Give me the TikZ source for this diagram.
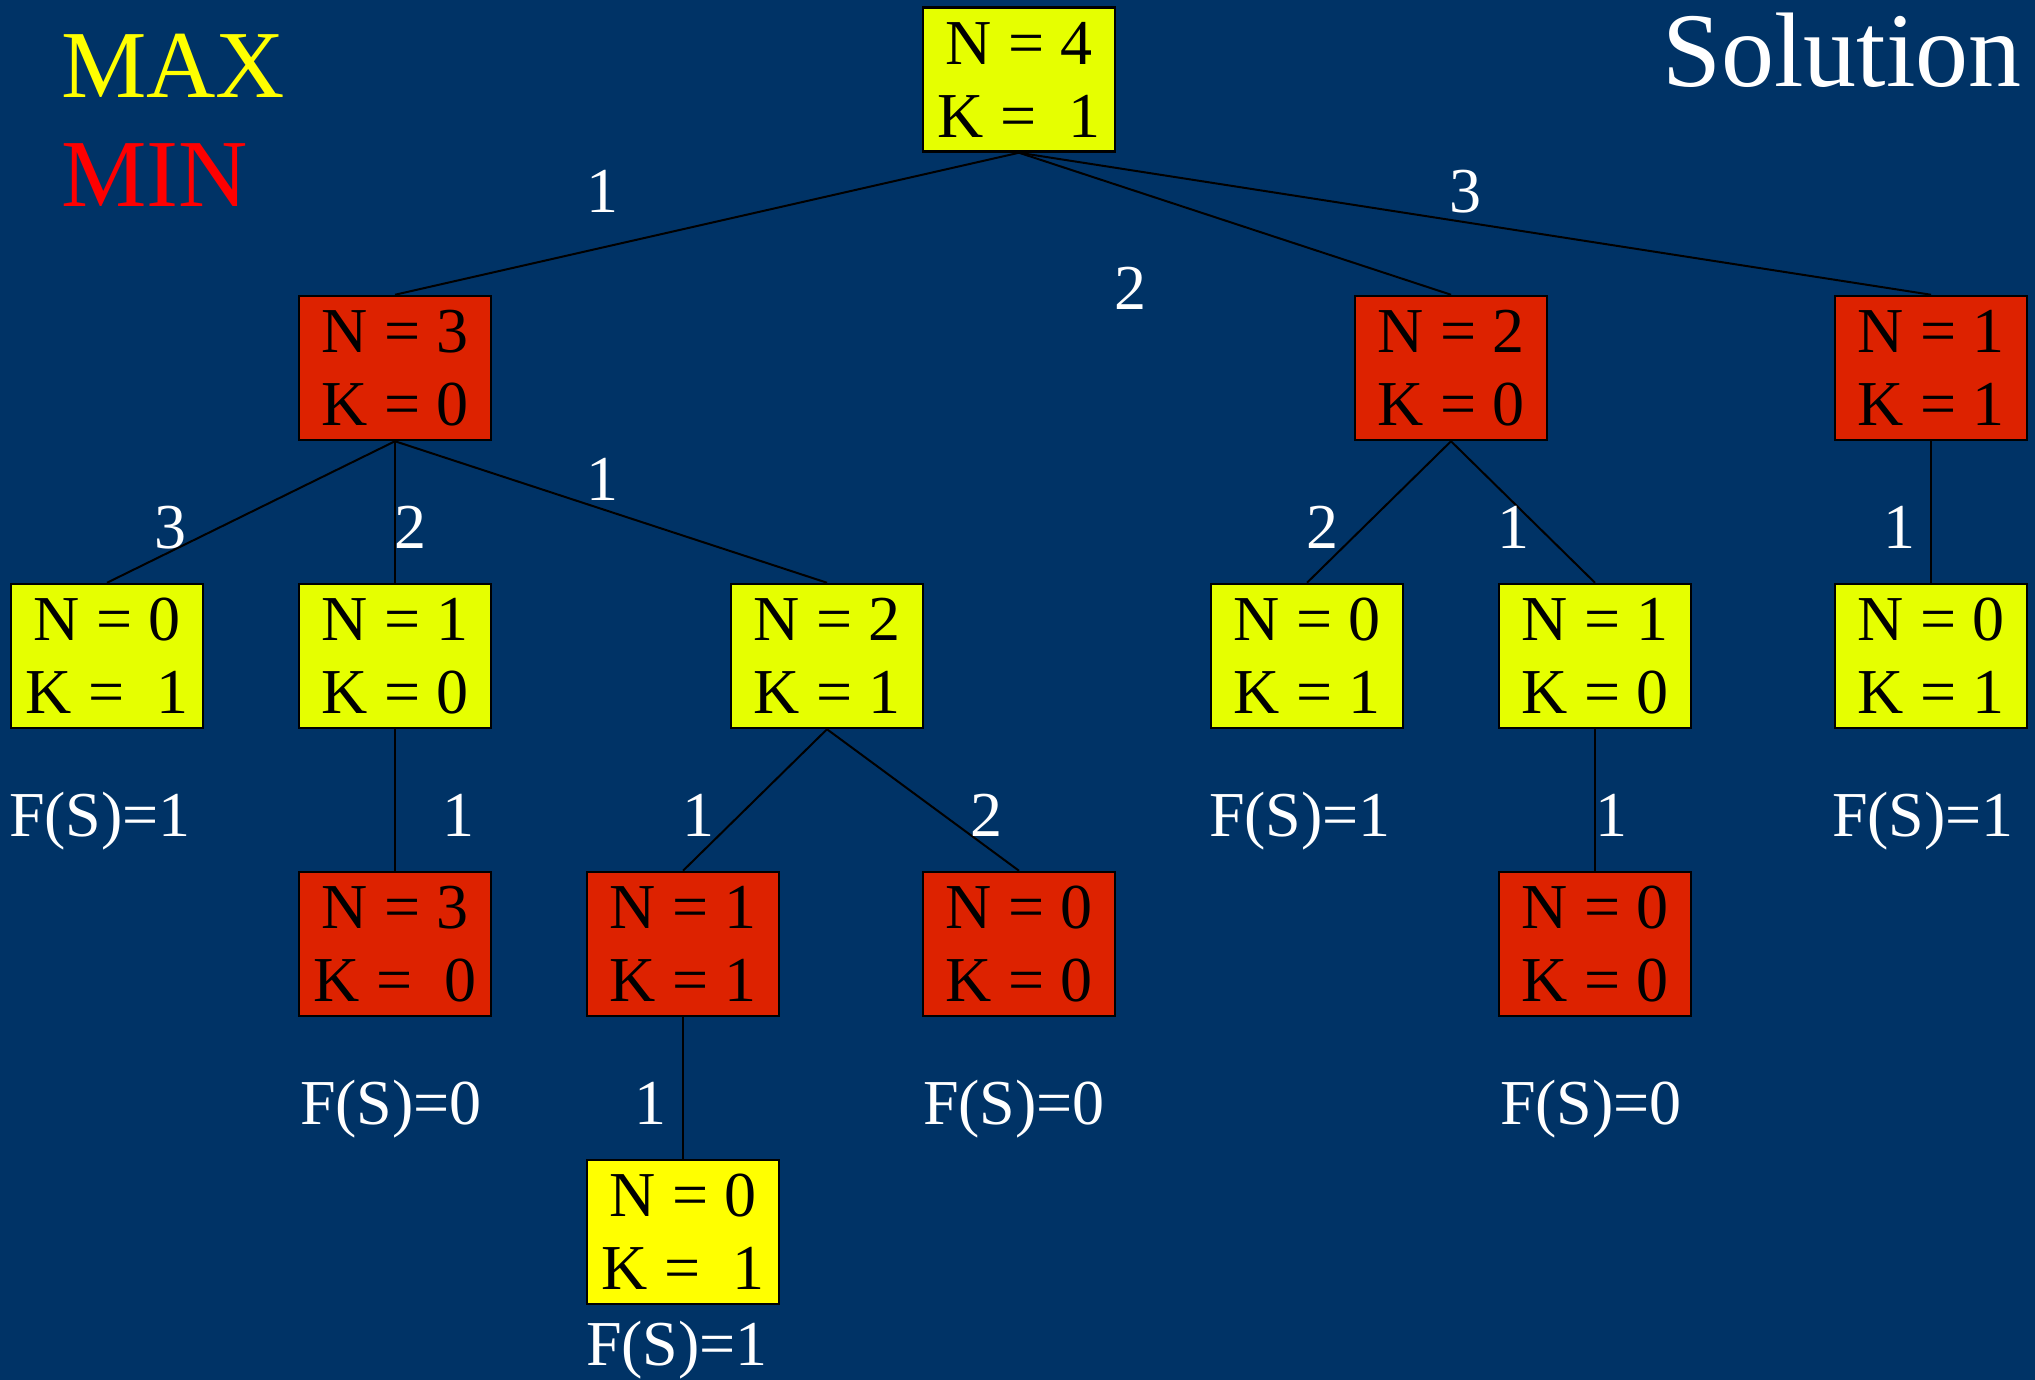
\documentclass[tikz,border=0pt]{standalone}
\usepackage{fontspec}
\setmainfont{Liberation Serif}
\definecolor{bgblue}{HTML}{003366}
\definecolor{maxfill}{HTML}{E6FF00}
\definecolor{maxfillb}{HTML}{FFFF00}
\definecolor{minfill}{HTML}{DD2200}
\definecolor{maxtxt}{HTML}{FFFF00}
\definecolor{mintxt}{HTML}{FF0000}
\tikzset{
  statebox/.style={draw=black, line width=2.5pt, minimum width=192pt, minimum height=144pt,
    inner sep=0pt, align=center, text=black, font=\fontsize{64}{73}\selectfont},
  maxbox/.style={statebox, fill=maxfill},
  minbox/.style={statebox, fill=minfill},
  edge/.style={draw=black, line width=2pt},
  lbl/.style={anchor=base, text=white, inner sep=0pt, font=\fontsize{64}{73}\selectfont},
  title/.style={inner sep=0pt, font=\fontsize{#1}{#1}\selectfont},
}
\begin{document}
\begin{tikzpicture}[x=1pt, y=-1pt]
  % canvas
  \fill[bgblue] (0,0) rectangle (2035,1380);
  \useasboundingbox (0,0) rectangle (2035,1380);

  % legend and heading
  \node[title=96, text=maxtxt, anchor=base west] (legmax) at (61,98) {MAX};
  \node[title=96, text=mintxt, anchor=base west] (legmin) at (61,207) {MIN};
  \node[title=106, text=white, anchor=base east] (heading) at (2022,87) {Solution};

  % game tree states
  \node[maxbox] (r)   at (1019,79.5) {N = 4\\K =\ \ 1};
  \node[minbox] (a)   at (395,368)  {N = 3\\K = 0};
  \node[minbox] (b)   at (1451,368) {N = 2\\K = 0};
  \node[minbox] (c)   at (1931,368) {N = 1\\K = 1};
  \node[maxbox] (a1)  at (107,656)  {N = 0\\K =\ \ 1};
  \node[maxbox] (a2)  at (395,656)  {N = 1\\K = 0};
  \node[maxbox] (a3)  at (827,656)  {N = 2\\K = 1};
  \node[maxbox] (b1)  at (1307,656) {N = 0\\K = 1};
  \node[maxbox] (b2)  at (1595,656) {N = 1\\K = 0};
  \node[maxbox] (c1)  at (1931,656) {N = 0\\K = 1};
  \node[minbox] (a21) at (395,944)  {N = 3\\K =\ \ 0};
  \node[minbox] (a31) at (683,944)  {N = 1\\K = 1};
  \node[minbox] (a32) at (1019,944) {N = 0\\K = 0};
  \node[minbox] (b21) at (1595,944) {N = 0\\K = 0};
  \node[statebox, fill=maxfillb] (a311) at (683,1232) {N = 0\\K =\ \ 1};

  % moves
  \draw[edge] (r.south) -- (a.north);
  \draw[edge] (r.south) -- (b.north);
  \draw[edge] (r.south) -- (c.north);
  \draw[edge] (a.south) -- (a1.north);
  \draw[edge] (a.south) -- (a2.north);
  \draw[edge] (a.south) -- (a3.north);
  \draw[edge] (b.south) -- (b1.north);
  \draw[edge] (b.south) -- (b2.north);
  \draw[edge] (c.south) -- (c1.north);
  \draw[edge] (a2.south) -- (a21.north);
  \draw[edge] (a3.south) -- (a31.north);
  \draw[edge] (a3.south) -- (a32.north);
  \draw[edge] (b2.south) -- (b21.north);
  \draw[edge] (a31.south) -- (a311.north);

  % move labels
  \node[lbl] (m1)  at (602,213)  {1};
  \node[lbl] (m2)  at (1130,309) {2};
  \node[lbl] (m3)  at (1465,213) {3};
  \node[lbl] (m4)  at (170,548)  {3};
  \node[lbl] (m5)  at (410,548)  {2};
  \node[lbl] (m6)  at (602,500)  {1};
  \node[lbl] (m7)  at (1322,548) {2};
  \node[lbl] (m8)  at (1513,548) {1};
  \node[lbl] (m9)  at (1899,548) {1};
  \node[lbl] (m10) at (458,836)  {1};
  \node[lbl] (m11) at (698,836)  {1};
  \node[lbl] (m12) at (986,836)  {2};
  \node[lbl] (m13) at (1611,836) {1};
  \node[lbl] (m14) at (650,1124) {1};

  % payoffs
  \node[lbl] (f1) at (100,836)   {F(S)=1};
  \node[lbl] (f2) at (391,1124)  {F(S)=0};
  \node[lbl] (f3) at (1014,1124) {F(S)=0};
  \node[lbl] (f4) at (1300,836)  {F(S)=1};
  \node[lbl] (f5) at (1591,1124) {F(S)=0};
  \node[lbl] (f6) at (1923,836)  {F(S)=1};
  \node[lbl] (f7) at (677,1365)  {F(S)=1};
\end{tikzpicture}
\end{document}
